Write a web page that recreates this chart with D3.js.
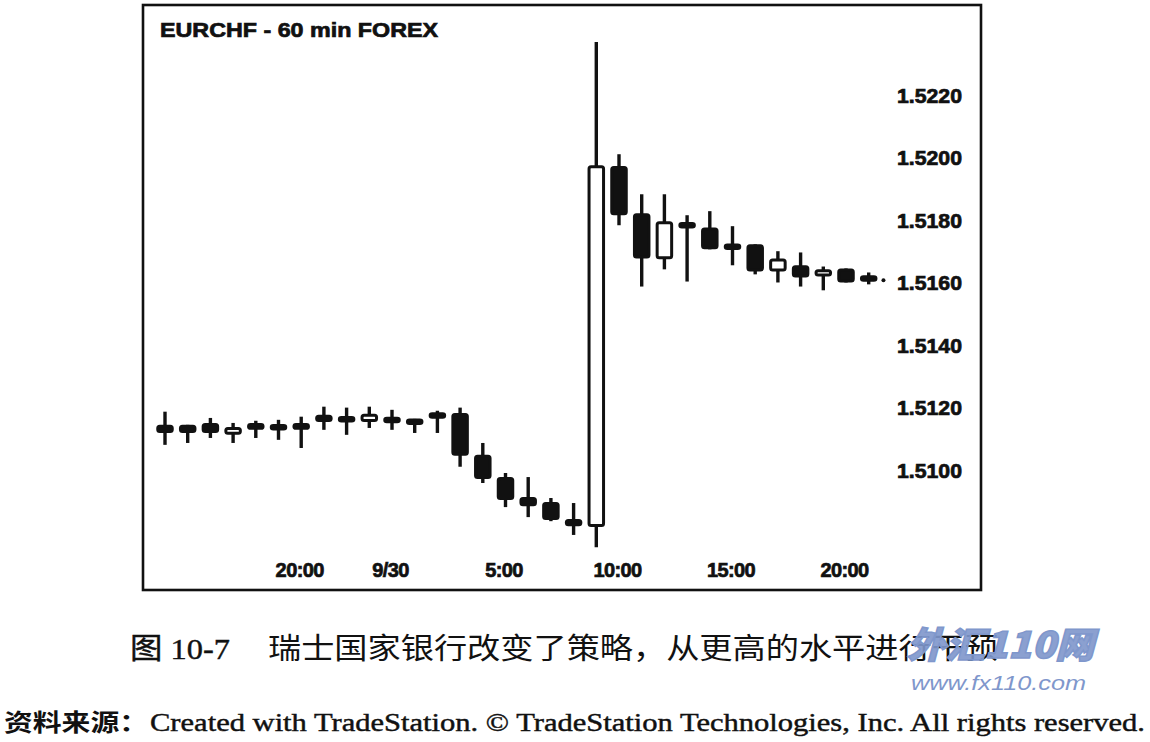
<!DOCTYPE html>
<html>
<head>
<meta charset="utf-8">
<script src="https://cdn.jsdelivr.net/npm/d3@7"></script>
<style>
  body { margin: 0; background: #fff; }
  svg { display: block; }
</style>
</head>
<body>
<script>
const times = [
  "9/29 14:00", "9/29 15:00", "9/29 16:00", "9/29 17:00", "9/29 18:00", "9/29 19:00",
  "9/29 20:00", "9/29 21:00", "9/29 22:00", "9/29 23:00", "9/30 0:00", "9/30 1:00",
  "9/30 2:00", "9/30 3:00", "9/30 4:00", "9/30 5:00", "9/30 6:00", "9/30 7:00",
  "9/30 8:00", "9/30 9:00", "9/30 10:00", "9/30 11:00", "9/30 12:00", "9/30 13:00",
  "9/30 14:00", "9/30 15:00", "9/30 16:00", "9/30 17:00", "9/30 18:00", "9/30 19:00",
  "9/30 20:00", "9/30 21:00"
];
const opens = [
  1.51148, 1.51148, 1.51154, 1.51116, 1.51154, 1.51148, 1.51154, 1.51180, 1.51174, 1.51157,
  1.51170, 1.51167, 1.51186, 1.51186, 1.51052, 1.50981, 1.50917, 1.50901, 1.50847, 1.50821,
  1.51975, 1.51824, 1.51677, 1.51796, 1.51779, 1.51725, 1.51725, 1.51638, 1.51658, 1.51622,
  1.51648, 1.51622
];
const highs = [
  1.51190, 1.51148, 1.51170, 1.51154, 1.51161, 1.51164, 1.51174, 1.51206, 1.51203, 1.51206,
  1.51196, 1.51167, 1.51193, 1.51203, 1.51090, 1.50994, 1.50981, 1.50914, 1.50898, 1.52372,
  1.52013, 1.51885, 1.51885, 1.51818, 1.51831, 1.51783, 1.51725, 1.51703, 1.51699, 1.51654,
  1.51648, 1.51635
];
const lows = [
  1.51084, 1.51090, 1.51106, 1.51090, 1.51106, 1.51100, 1.51074, 1.51132, 1.51116, 1.51138,
  1.51132, 1.51122, 1.51122, 1.51014, 1.50962, 1.50885, 1.50853, 1.50840, 1.50796, 1.50757,
  1.51786, 1.51590, 1.51645, 1.51606, 1.51709, 1.51658, 1.51629, 1.51603, 1.51590, 1.51578,
  1.51603, 1.51597
];
const closes = [
  1.51122, 1.51122, 1.51122, 1.51141, 1.51132, 1.51132, 1.51132, 1.51157, 1.51157, 1.51183,
  1.51157, 1.51148, 1.51170, 1.51049, 1.50975, 1.50908, 1.50888, 1.50844, 1.50824, 1.51978,
  1.51818, 1.51680, 1.51799, 1.51776, 1.51709, 1.51709, 1.51638, 1.51680, 1.51619, 1.51645,
  1.51603, 1.51610
];
const priceTicks = [1.5100, 1.5120, 1.5140, 1.5160, 1.5180, 1.5200, 1.5220];
const timeTicks = ["9/29 20:00", "9/30 0:00", "9/30 5:00", "9/30 10:00", "9/30 15:00", "9/30 20:00"];
const timeTickLabels = ["20:00", "9/30", "5:00", "10:00", "15:00", "20:00"];

const candles = times.map((t, i) => ({
  t, open: opens[i], high: highs[i], low: lows[i], close: closes[i]
}));

const width = 1150, height = 742;
const frame = {left: 143, top: 5, right: 981, bottom: 590};
const bodyWidth = 17.5;
const stroke = 3;
const minBody = 6.5;
const boldFont = "'Liberation Sans', Arial, sans-serif";

const svg = d3.select("body").append("svg")
    .attr("width", width)
    .attr("height", height);

svg.append("rect")
    .attr("width", width).attr("height", height)
    .attr("fill", "#fff");

const x = d3.scalePoint()
    .domain(times)
    .range([165, 868.7]);
const y = d3.scaleLinear()
    .domain([1.5062, 1.5249])
    .range([frame.bottom, frame.top]);

// heavy text like the scanned chart labels
const heavy = sel => sel
    .style("font-family", boldFont)
    .style("font-size", "20px")
    .style("font-weight", "bold")
    .style("fill", "#111")
    .style("stroke", "#111")
    .style("stroke-width", 0.7);

// Frame
svg.append("rect")
    .attr("x", frame.left).attr("y", frame.top)
    .attr("width", frame.right - frame.left)
    .attr("height", frame.bottom - frame.top)
    .attr("fill", "none")
    .attr("stroke", "#111")
    .attr("stroke-width", 2.6);

// Title
svg.append("text")
    .attr("x", 160).attr("y", 37)
    .attr("textLength", 278)
    .attr("lengthAdjust", "spacingAndGlyphs")
    .call(heavy)
    .text("EURCHF - 60 min  FOREX");

// Price axis
const yAxis = svg.append("g")
    .attr("transform", "translate(897,0)")
    .call(d3.axisRight(y).tickValues(priceTicks).tickFormat(d3.format(".4f"))
        .tickSize(0).tickPadding(0));
yAxis.select(".domain").remove();
yAxis.selectAll("text")
    .attr("textLength", 65)
    .attr("lengthAdjust", "spacingAndGlyphs")
    .call(heavy);

// Time axis
const xAxis = svg.append("g")
    .attr("transform", "translate(-2,563)")
    .call(d3.axisBottom(x).tickValues(timeTicks)
        .tickFormat((d, i) => timeTickLabels[i])
        .tickSize(0).tickPadding(0));
xAxis.select(".domain").remove();
xAxis.selectAll("text")
    .call(heavy)
    .style("letter-spacing", "-0.6px");

// Wicks
svg.append("g").selectAll("line")
    .data(candles)
    .join("line")
    .attr("x1", d => x(d.t)).attr("x2", d => x(d.t))
    .attr("y1", d => y(d.high)).attr("y2", d => y(d.low))
    .attr("stroke", "#111")
    .attr("stroke-width", 3.4);

// Bodies
svg.append("g").selectAll("rect")
    .data(candles)
    .join("rect")
    .attr("x", d => x(d.t) - bodyWidth / 2 + stroke / 2)
    .attr("y", d => {
        const h = Math.max(minBody, Math.abs(y(d.open) - y(d.close)));
        const mid = (y(d.open) + y(d.close)) / 2;
        return mid - h / 2 + stroke / 2;
    })
    .attr("width", bodyWidth - stroke)
    .attr("height", d => Math.max(minBody, Math.abs(y(d.open) - y(d.close))) - stroke)
    .attr("rx", 2)
    .attr("fill", d => d.close > d.open ? "#fff" : "#111")
    .attr("stroke", "#111")
    .attr("stroke-width", stroke);

// Last price marker
const last = candles[candles.length - 1];
svg.append("circle")
    .attr("cx", x(last.t) + x.step() * 0.65)
    .attr("cy", y(last.close))
    .attr("r", 2)
    .attr("fill", "#111");

// Caption
svg.append("text")
    .attr("x", 130).attr("y", 659)
    .attr("textLength", 100)
    .attr("lengthAdjust", "spacingAndGlyphs")
    .style("font-family", "'Liberation Serif', 'Noto Sans CJK SC', serif")
    .style("font-size", "29px")
    .style("fill", "#111")
    .style("stroke", "#111")
    .style("stroke-width", 0.4)
    .text("图 10-7");
svg.append("text")
    .attr("x", 268).attr("y", 659)
    .attr("textLength", 730)
    .attr("lengthAdjust", "spacingAndGlyphs")
    .style("font-family", "'Noto Sans CJK SC', sans-serif")
    .style("font-size", "29px")
    .style("fill", "#111")
    .text("瑞士国家银行改变了策略，从更高的水平进行干预");

// Watermark
svg.append("text")
    .attr("x", 907).attr("y", 658)
    .attr("textLength", 187)
    .attr("lengthAdjust", "spacingAndGlyphs")
    .style("font-family", "'Noto Sans CJK SC', sans-serif")
    .style("font-size", "36px")
    .style("font-weight", "900")
    .style("font-style", "italic")
    .style("fill", "#7f97cc")
    .style("fill-opacity", 0.92)
    .style("stroke", "#7f97cc")
    .style("stroke-width", 1.5)
    .text("外汇110网");
svg.append("text")
    .attr("x", 911).attr("y", 690)
    .attr("textLength", 175)
    .attr("lengthAdjust", "spacingAndGlyphs")
    .style("font-family", "'Liberation Sans', Arial, sans-serif")
    .style("font-size", "21px")
    .style("font-style", "italic")
    .style("fill", "#7f97cc")
    .text("www.fx110.com");

// Source line
svg.append("text")
    .attr("x", 4).attr("y", 731)
    .attr("textLength", 144)
    .attr("lengthAdjust", "spacingAndGlyphs")
    .style("font-family", "'Noto Sans CJK SC', sans-serif")
    .style("font-size", "24px")
    .style("font-weight", "bold")
    .style("fill", "#111")
    .text("资料来源：");
svg.append("text")
    .attr("x", 150).attr("y", 731)
    .attr("textLength", 995)
    .attr("lengthAdjust", "spacingAndGlyphs")
    .style("font-family", "'Liberation Serif', 'Times New Roman', serif")
    .style("font-size", "26px")
    .style("fill", "#111")
    .style("stroke", "#111")
    .style("stroke-width", 0.45)
    .text("Created with TradeStation. © TradeStation Technologies, Inc. All rights reserved.");
</script>
</body>
</html>
